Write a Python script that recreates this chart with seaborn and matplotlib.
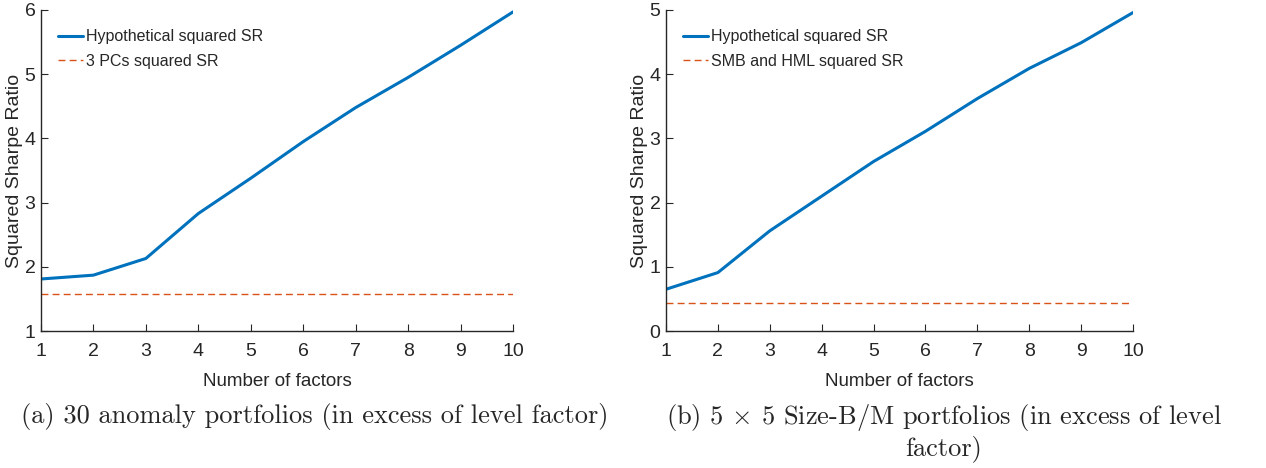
import matplotlib
matplotlib.use("Agg")
import matplotlib.pyplot as plt
import seaborn as sns
import pandas as pd

# ----------------------------
# Data
# ----------------------------
factors = [1, 2, 3, 4, 5, 6, 7, 8, 9, 10]

anomaly_hyp_sr = [1.81, 1.87, 2.13, 2.83, 3.38, 3.95, 4.48, 4.95, 5.45, 5.97]
anomaly_pc_sr = 1.58

sizebm_hyp_sr = [0.65, 0.91, 1.56, 2.10, 2.64, 3.11, 3.62, 4.09, 4.49, 4.96]
sizebm_ff_sr = 0.44

panel_labels = ["3 PCs squared SR", "SMB and HML squared SR"]
captions = [
    "(a) 30 anomaly portfolios (in excess of level factor)",
    "(b) 5 $\\times$ 5 Size-B/M portfolios (in excess of level\nfactor)",
]

BLUE = "#0072BD"
ORANGE = "#D95319"

sns.set_style("ticks")
plt.rcParams["font.family"] = ["Liberation Sans", "DejaVu Sans"]
plt.rcParams["mathtext.fontset"] = "cm"
plt.rcParams["axes.linewidth"] = 1.0
plt.rcParams["xtick.direction"] = "in"
plt.rcParams["ytick.direction"] = "in"
plt.rcParams["axes.edgecolor"] = "#262626"

fig = plt.figure(figsize=(12.66, 4.68), dpi=100)
ax1 = fig.add_axes([41 / 1266, 1 - 331 / 468, (513 - 41) / 1266, 321 / 468])
ax2 = fig.add_axes([666 / 1266, 1 - 331 / 468, (1133 - 666) / 1266, 321 / 468])

panels = [
    (ax1, anomaly_hyp_sr, anomaly_pc_sr, panel_labels[0], (1, 6)),
    (ax2, sizebm_hyp_sr, sizebm_ff_sr, panel_labels[1], (0, 5)),
]

for ax, hyp, base, lab, ylim in panels:
    df = pd.DataFrame({"factors": factors, "hyp": hyp, "base": [base] * len(factors)})
    sns.lineplot(data=df, x="factors", y="hyp", ax=ax, color=BLUE, linewidth=2.2,
                 label="Hypothetical squared SR")
    sns.lineplot(data=df, x="factors", y="base", ax=ax, color=ORANGE, linewidth=1.0,
                 linestyle=(0, (5, 3)), label=lab)
    ax.set_xlim(1, 10)
    ax.set_ylim(*ylim)
    ax.set_xticks(factors)
    ax.set_yticks(range(ylim[0], ylim[1] + 1))
    ax.tick_params(labelsize=14, length=5, width=0.8, colors="#262626")
    ax.tick_params(axis="x", pad=9)
    ax.tick_params(axis="y", pad=4)
    ax.set_xlabel("Number of factors", fontsize=13.5, color="#262626", labelpad=9)
    ax.set_ylabel("Squared Sharpe Ratio", fontsize=14, color="#262626", labelpad=1)
    sns.despine(ax=ax)
    ax.legend(loc="upper left", frameon=False, fontsize=11.5, handlelength=1.6,
              handletextpad=0.15, borderaxespad=0.0, labelspacing=0.6,
              bbox_to_anchor=(0.022, 0.96))

# ----------------------------
# Sub-figure captions
# ----------------------------
fig.text(315 / 1266, 1 - 416 / 468, captions[0], ha="center", va="center",
         fontsize=19, family="cmr10")
fig.text(944 / 1266, 1 - 432 / 468, captions[1], ha="center", va="center",
         fontsize=19, family="cmr10", multialignment="center", linespacing=1.15)

fig.savefig("out.png", dpi=100)
